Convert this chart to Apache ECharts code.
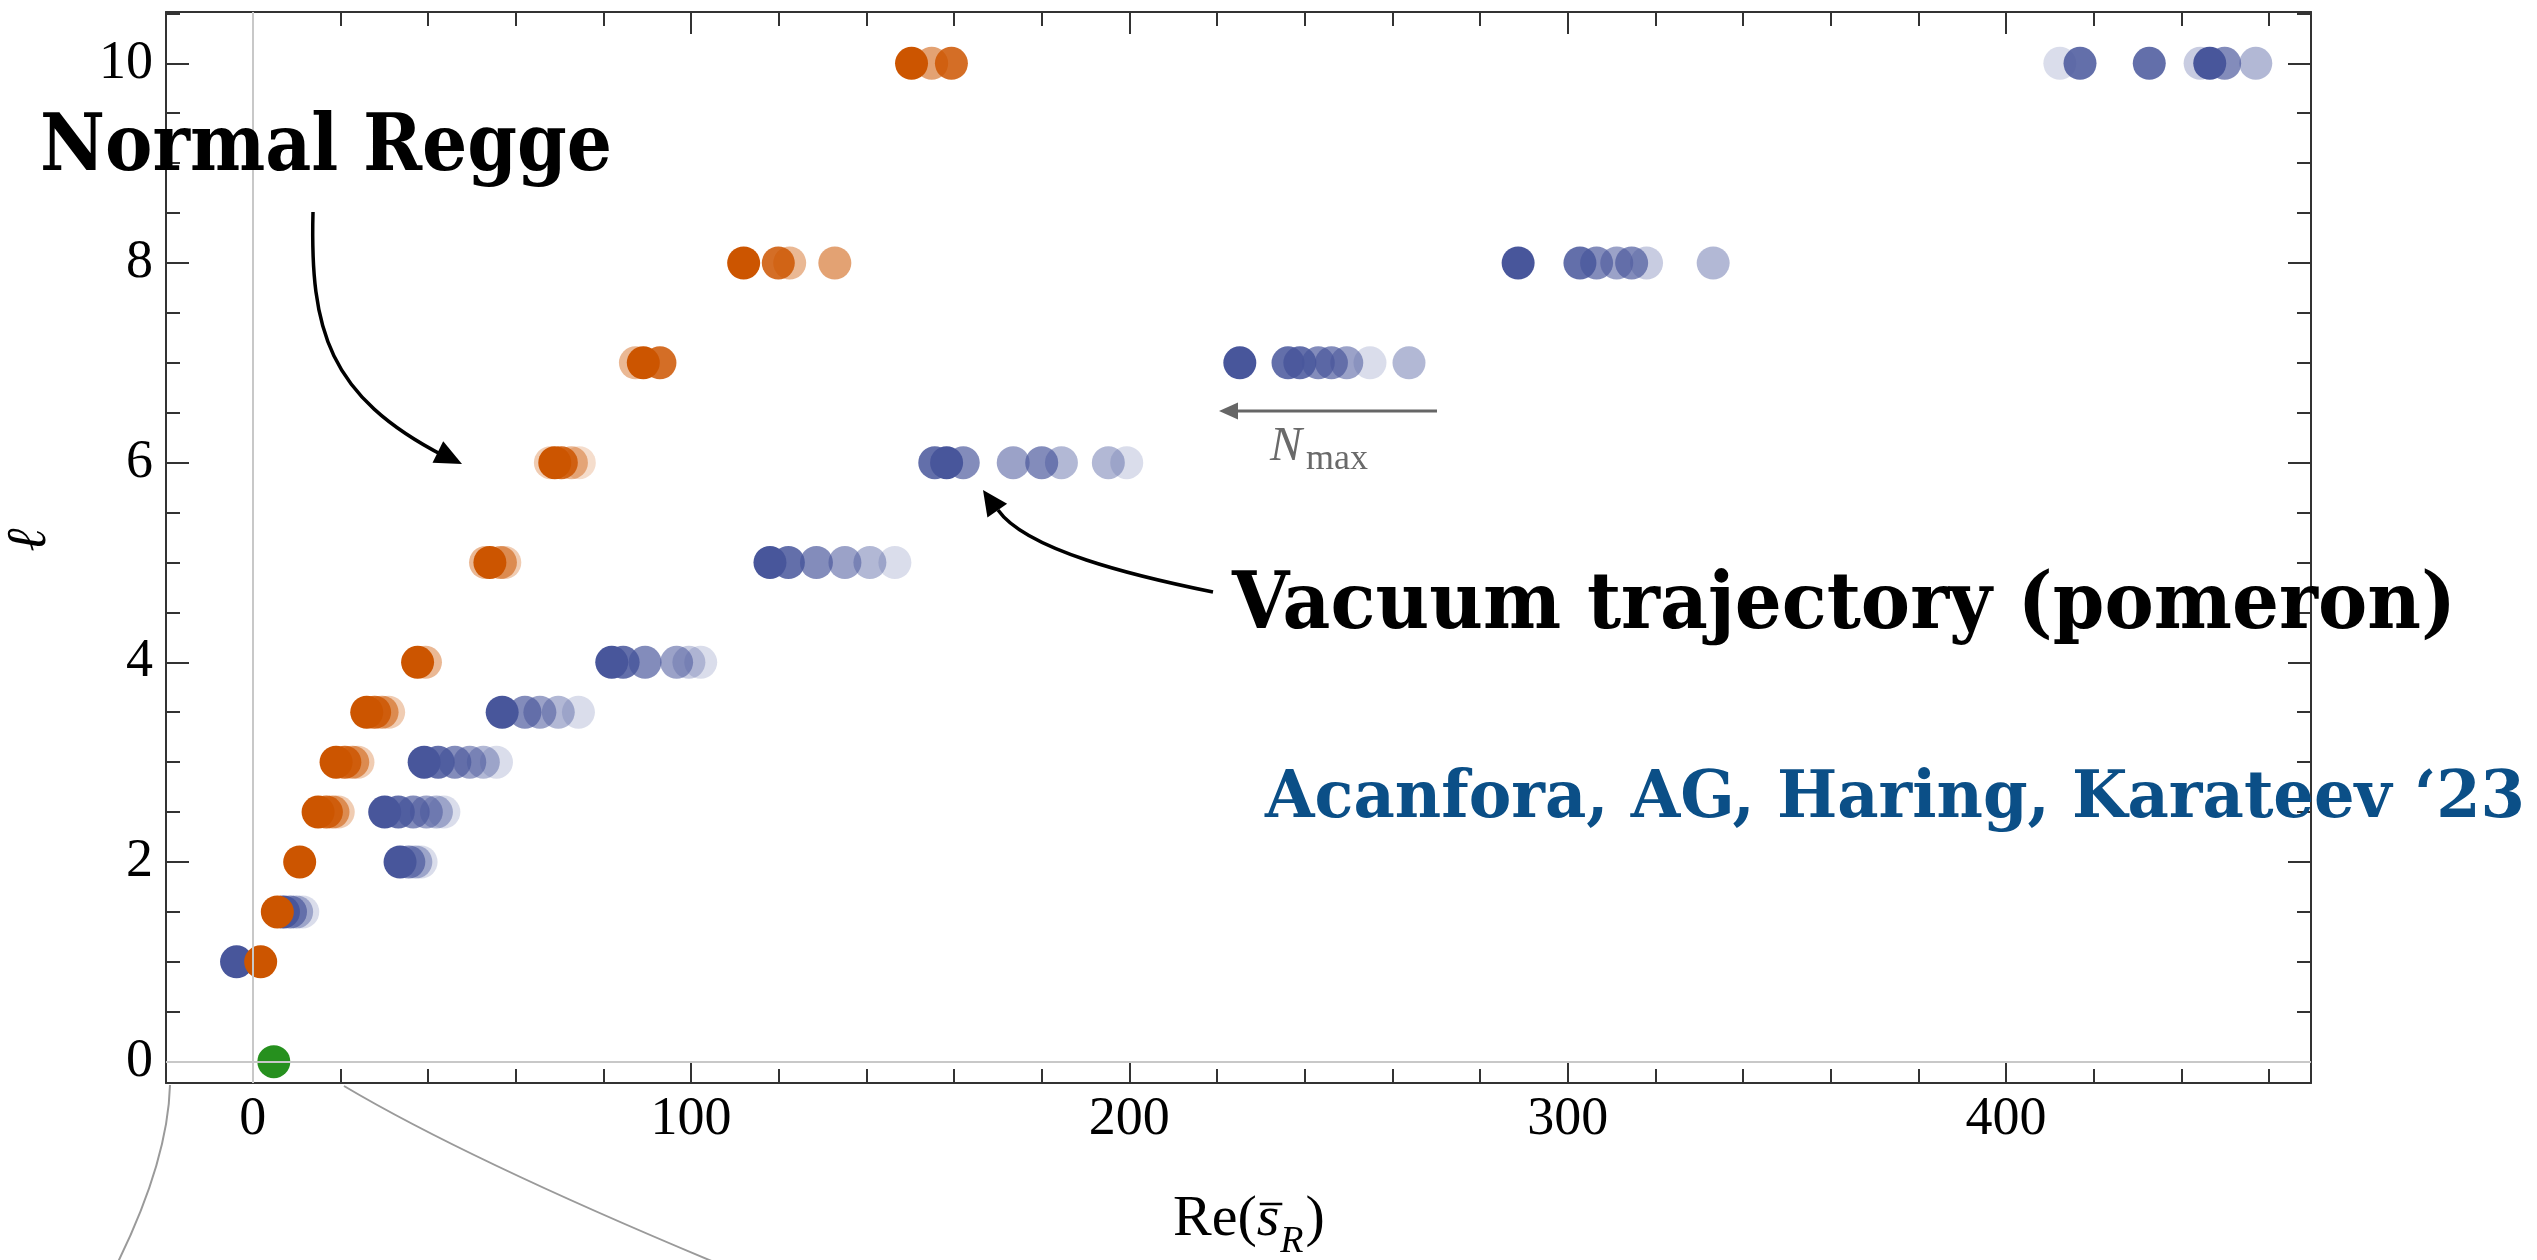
<!DOCTYPE html>
<html>
<head>
<meta charset="utf-8">
<title>Regge trajectories</title>
<script src="https://cdn.jsdelivr.net/npm/echarts/dist/echarts.min.js"></script>
<style>
html, body { margin: 0; padding: 0; background: #ffffff; }
#chart { width: 2537px; height: 1260px; }
</style>
</head>
<body>
<div id="chart"></div>
<script>
// Regge poles: [Re(s̄_R), ℓ, step], step 0 = largest N_max (darkest), higher = smaller N_max
const reggeNormal = [
  [1.8, 1, 0],
  [5.6, 1.5, 0],
  [10.7, 2, 0],
  [14.9, 2.5, 0], [16.8, 2.5, 1], [18.3, 2.5, 3], [19.5, 2.5, 5],
  [19.0, 3, 0], [21.0, 3, 1], [22.8, 3, 3], [24.0, 3, 5],
  [26.0, 3.5, 0], [27.8, 3.5, 1], [29.5, 3.5, 3], [31.0, 3.5, 5],
  [37.6, 4, 0], [39.4, 4, 4],
  [53.1, 5, 4], [54.1, 5, 0], [56.5, 5, 3], [57.5, 5, 5],
  [67.9, 6, 5], [68.9, 6, 0], [70.4, 6, 1], [72.7, 6, 4], [74.5, 6, 6],
  [87.3, 7, 4], [89.1, 7, 0], [92.9, 7, 1],
  [112.0, 8, 0], [119.9, 8, 1], [122.5, 8, 4], [132.8, 8, 3],
  [150.3, 10, 0], [154.9, 10, 3], [159.4, 10, 1]
];

const reggeVacuum = [
  [-3.7, 1, 0],
  [7.0, 1.5, 0], [8.6, 1.5, 2], [10.0, 1.5, 4], [11.4, 1.5, 6],
  [33.6, 2, 0], [35.6, 2, 2], [37.2, 2, 4], [38.4, 2, 6],
  [30.1, 2.5, 0], [33.2, 2.5, 1], [36.6, 2.5, 2], [39.6, 2.5, 3], [41.9, 2.5, 4], [43.6, 2.5, 6],
  [39.1, 3, 0], [42.3, 3, 1], [46.1, 3, 2], [49.5, 3, 3], [52.6, 3, 4], [55.6, 3, 6],
  [56.9, 3.5, 0], [62.1, 3.5, 2], [65.5, 3.5, 3], [69.7, 3.5, 4], [74.3, 3.5, 6],
  [81.9, 4, 0], [84.5, 4, 1], [89.5, 4, 2], [96.7, 4, 3], [99.5, 4, 5], [102.2, 4, 6],
  [118.0, 5, 0], [122.2, 5, 1], [128.6, 5, 2], [135.1, 5, 3], [140.8, 5, 4], [146.5, 5, 6],
  [155.6, 6, 1], [158.3, 6, 0], [162.1, 6, 2], [173.5, 6, 3], [180.0, 6, 2], [184.5, 6, 4], [195.2, 6, 4], [199.4, 6, 6],
  [225.2, 7, 0], [236.2, 7, 1], [238.9, 7, 1], [243.1, 7, 2], [246.1, 7, 2], [249.6, 7, 3], [254.9, 7, 6], [263.8, 7, 4],
  [288.7, 8, 0], [302.8, 8, 1], [306.6, 8, 2], [311.2, 8, 3], [314.6, 8, 2], [318.0, 8, 5], [333.2, 8, 4],
  [412.3, 10, 6], [416.9, 10, 1], [432.7, 10, 1], [444.3, 10, 5], [446.5, 10, 0], [449.9, 10, 2], [457.0, 10, 4]
];

const groundState = [[4.8, 0, 0]];

const xTickValues = [0, 100, 200, 300, 400];
const yTickValues = [0, 2, 4, 6, 8, 10];
const xMinorStep = 20;
const yMinorStep = 0.5;

// ---- styling ----
const X_MIN = -19.8, X_MAX = 469.6;
const Y_MIN = -0.214, Y_MAX = 10.514;
const FRAME = '#333333';
const stepOpacity = [1, 0.85, 0.68, 0.55, 0.42, 0.3, 0.2];
const COLOR_NORMAL = '#cc5500';
const COLOR_VACUUM = '#48569b';
const COLOR_GROUND = '#26901e';

function minorValues(lo, hi, step, majors) {
  const out = [];
  for (let v = Math.ceil(lo / step) * step; v <= hi + 1e-9; v += step) {
    const r = Math.round(v * 1000) / 1000;
    if (!majors.includes(r)) out.push(r);
  }
  return out;
}
const xMinor = minorValues(X_MIN, X_MAX, xMinorStep, xTickValues);
const yMinor = minorValues(Y_MIN, Y_MAX, yMinorStep, yTickValues);

function toItems(points) {
  return points.slice().sort((a, b) => b[2] - a[2]).map(p => ({
    value: [p[0], p[1]],
    itemStyle: { opacity: stepOpacity[p[2]] }
  }));
}

const tickFont = { fontFamily: 'Liberation Serif', fontSize: 54, color: '#000' };

function xAx(position, major, labels) {
  return {
    type: 'value', min: X_MIN, max: X_MAX, position: position,
    axisLine: { show: major, onZero: false, lineStyle: { color: FRAME, width: 2 } },
    axisTick: { show: true, inside: true, length: major ? 22 : 14,
      customValues: major ? xTickValues : xMinor, lineStyle: { color: FRAME, width: 2 } },
    axisLabel: labels ? Object.assign({ customValues: xTickValues, margin: 10 }, tickFont) : { show: false },
    splitLine: { show: false }
  };
}
function yAx(position, major, labels) {
  return {
    type: 'value', min: Y_MIN, max: Y_MAX, position: position,
    axisLine: { show: major, onZero: false, lineStyle: { color: FRAME, width: 2 } },
    axisTick: { show: true, inside: true, length: major ? 23 : 14,
      customValues: major ? yTickValues : yMinor, lineStyle: { color: FRAME, width: 2 } },
    axisLabel: labels ? Object.assign({ customValues: yTickValues, margin: 13 }, tickFont) : { show: false },
    splitLine: { show: false }
  };
}

// text helpers for annotations
const mctx = document.createElement('canvas').getContext('2d');
function textWidth(str, font) { mctx.font = font; return mctx.measureText(str).width; }
function fittedText(str, font, left, right, yMid, color) {
  const w = textWidth(str, font);
  return {
    type: 'text', x: left, y: yMid, scaleX: (right - left) / w, z: 100,
    style: { text: str, font: font, fill: color, textAlign: 'left', textVerticalAlign: 'middle', verticalAlign: 'middle' }
  };
}
function plainText(str, font, x, yMid, color, align) {
  return {
    type: 'text', x: x, y: yMid, z: 100,
    style: { text: str, font: font, fill: color, textAlign: align || 'left', textVerticalAlign: 'middle', verticalAlign: 'middle' }
  };
}
function arrowHead(tx, ty, dx, dy, len, half, color) {
  const n = Math.hypot(dx, dy); dx /= n; dy /= n;
  const bx = tx - dx * len, by = ty - dy * len;
  return {
    type: 'polygon', z: 100,
    shape: { points: [[tx, ty], [bx - dy * half, by + dx * half], [bx + dy * half, by - dx * half]] },
    style: { fill: color }
  };
}

const annFont = 'bold 78px "DejaVu Serif"';
const citeFont = 'bold 65px "DejaVu Serif"';

// x-axis title pieces: Re( s̄ R )
const titleFont = '58px "Liberation Serif"';
const titleItal = 'italic 58px "Liberation Serif"';
const subItal = 'italic 38px "Liberation Serif"';
const tX0 = 1173, tMid = 1220;
const wRe = textWidth('Re(', titleFont);
const wS = textWidth('s', titleItal);
const wR = textWidth('R', subItal);

const ellLabel = plainText('\u2113', 'italic 56px "Liberation Serif"', 30, 540, '#000', 'center');
ellLabel.rotation = Math.PI / 2;

const graphics = [
  // Normal Regge label and arrow
  fittedText('Normal Regge', annFont, 40, 612, 150, '#000'),
  { type: 'bezierCurve', z: 100,
    shape: { x1: 313, y1: 212, cpx1: 310, cpy1: 330, cpx2: 328, cpy2: 396, x2: 444, y2: 456 },
    style: { stroke: '#000', lineWidth: 3.5, fill: null } },
  arrowHead(462, 464, 2, 1, 27, 12, '#000'),

  // Vacuum trajectory label and arrow
  fittedText('Vacuum trajectory (pomeron)', annFont, 1232, 2456, 608, '#000'),
  { type: 'bezierCurve', z: 100,
    shape: { x1: 1213, y1: 592, cpx1: 1134, cpy1: 576, cpx2: 1026, cpy2: 550, x2: 998, y2: 510 },
    style: { stroke: '#000', lineWidth: 3.5, fill: null } },
  arrowHead(983, 490, -0.57, -0.82, 25, 12, '#000'),

  // citation
  fittedText('Acanfora, AG, Haring, Karateev \u201823', citeFont, 1265, 2525, 800, '#0b4f87'),

  // N_max direction arrow
  { type: 'line', z: 100, shape: { x1: 1437, y1: 411, x2: 1232, y2: 411 },
    style: { stroke: '#666', lineWidth: 3 } },
  arrowHead(1219, 411, -1, 0, 19, 8.5, '#666'),
  plainText('N', 'italic 48px "Liberation Serif"', 1270, 447, '#6a6a6a'),
  plainText('max', '36px "Liberation Serif"', 1306, 460, '#6a6a6a'),

  // axis titles
  plainText('Re(', titleFont, tX0, tMid, '#000'),
  plainText('s', titleItal, tX0 + wRe, tMid, '#000'),
  { type: 'line', z: 100, shape: { x1: tX0 + wRe + 3, y1: 1204, x2: tX0 + wRe + wS + 3, y2: 1204 },
    style: { stroke: '#000', lineWidth: 2.5 } },
  plainText('R', subItal, tX0 + wRe + wS + 1, tMid + 22, '#000'),
  plainText(')', titleFont, tX0 + wRe + wS + wR + 3, tMid, '#000'),
  ellLabel,

  // lead-out lines below the frame
  { type: 'bezierCurve', z: 100,
    shape: { x1: 170, y1: 1085, cpx1: 168, cpy1: 1160, x2: 118, y2: 1262 },
    style: { stroke: '#9a9a9a', lineWidth: 2, fill: null } },
  { type: 'bezierCurve', z: 100,
    shape: { x1: 344, y1: 1086, cpx1: 467, cpy1: 1159, x2: 714, y2: 1262 },
    style: { stroke: '#9a9a9a', lineWidth: 2, fill: null } }
];

const chart = echarts.init(document.getElementById('chart'), null, { renderer: 'canvas' });
chart.setOption({
  backgroundColor: '#ffffff',
  animation: false,
  grid: { left: 166, top: 12, width: 2145, height: 1071, containLabel: false, outerBoundsMode: 'none' },
  xAxis: [xAx('bottom', true, true), xAx('bottom', false, false), xAx('top', true, false), xAx('top', false, false)],
  yAxis: [yAx('left', true, true), yAx('left', false, false), yAx('right', true, false), yAx('right', false, false)],
  series: [
    {
      type: 'scatter', name: 'axes', data: [], silent: true, z: 1,
      markLine: {
        silent: true, symbol: 'none', animation: false,
        label: { show: false },
        lineStyle: { color: '#c8c8c8', width: 2, type: 'solid' },
        data: [{ xAxis: 0 }, { yAxis: 0 }]
      }
    },
    {
      type: 'scatter', name: 'Vacuum trajectory', z: 2,
      symbol: 'circle', symbolSize: 33,
      itemStyle: { color: COLOR_VACUUM },
      data: toItems(reggeVacuum)
    },
    {
      type: 'scatter', name: 'Normal Regge', z: 3,
      symbol: 'circle', symbolSize: 33,
      itemStyle: { color: COLOR_NORMAL },
      data: toItems(reggeNormal)
    },
    {
      type: 'scatter', name: 'Ground state', z: 4,
      symbol: 'circle', symbolSize: 33,
      itemStyle: { color: COLOR_GROUND },
      data: toItems(groundState)
    }
  ],
  graphic: { elements: graphics }
});
</script>
</body>
</html>
